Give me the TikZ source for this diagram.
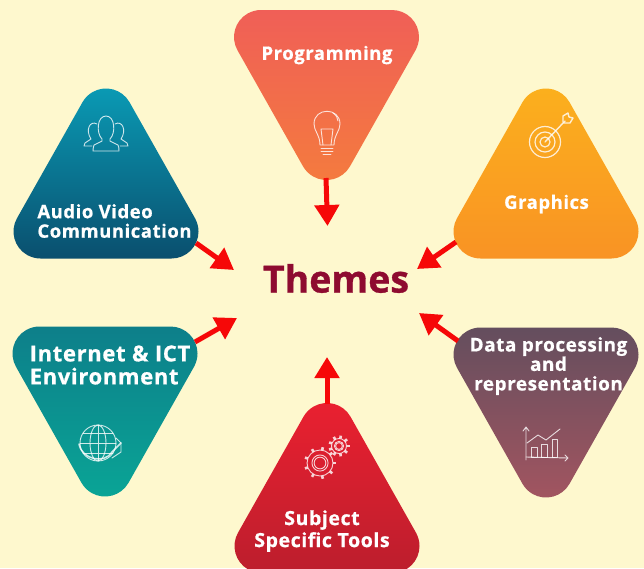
\documentclass[tikz,border=0pt]{standalone}
\usepackage{fontspec}
\setmainfont{Open Sans}
\usetikzlibrary{arrows.meta}
\definecolor{bgc}{HTML}{FEF8CE}
\definecolor{themec}{HTML}{8E0B30}
\definecolor{arrowc}{HTML}{F60808}
\definecolor{progA}{HTML}{F05F57}\definecolor{progB}{HTML}{F47B3E}
\definecolor{avA}{HTML}{0A9BB5}\definecolor{avB}{HTML}{0A4F6E}
\definecolor{grA}{HTML}{FBB01D}\definecolor{grB}{HTML}{F99324}
\definecolor{inA}{HTML}{0D7F8A}\definecolor{inB}{HTML}{0AA596}
\definecolor{daA}{HTML}{644E5E}\definecolor{daB}{HTML}{A35560}
\definecolor{suA}{HTML}{EA2030}\definecolor{suB}{HTML}{BC1E2D}
\newfontfamily\lblfont[LetterSpace=3,BoldFeatures={FakeBold=0.7,LetterSpace=3}]{Open Sans}
\newfontfamily\themefont[BoldFeatures={FakeBold=0.9}]{Open Sans}
\newcommand{\downtri}[4]{%
 \begin{scope}[shift={(#1,#2)},y=1pt]
 \shade[top color=#3,bottom color=#4]
 (-65.5,0) -- (65.5,0) arc[start angle=90,end angle=-29.45,radius=27]
 -- (23.51,-156.28) arc[start angle=-29.45,end angle=-150.55,radius=27]
 -- (-89.01,-40.28) arc[start angle=209.45,end angle=90,radius=27] -- cycle;
 \end{scope}}
\newcommand{\uptri}[4]{%
 \begin{scope}[shift={(#1,#2)},y=1pt]
 \shade[top color=#3,bottom color=#4]
 (65.5,-170) arc[start angle=-90,end angle=29.45,radius=27]
 -- (23.51,-13.72) arc[start angle=29.45,end angle=150.55,radius=27]
 -- (-89.01,-129.72) arc[start angle=150.55,end angle=270,radius=27] -- cycle;
 \end{scope}}
\newcommand{\gearicon}[4]{% x y r teeth
 \begin{scope}[shift={(#1,#2)}]
 \draw[icon] (0,0) circle[radius=#3];
 \draw[icon] (0,0) circle[radius=#3*.62];
 \draw[icon] (0,0) circle[radius=#3*.45];
 \foreach \a in {1,...,#4}{
  \draw[icon,line width=2.6pt,line cap=butt] ({360/#4*\a}:#3) -- ({360/#4*\a}:#3+3);}
 \end{scope}}
\tikzset{
 lbl/.style={text=white,inner sep=0pt,font=\lblfont\bfseries\fontsize{18.5}{19.5}\selectfont},
 link/.style={draw=arrowc,line width=5pt,-{Triangle[length=21pt,width=24pt]}},
 icon/.style={draw=white,draw opacity=.8,line width=.9pt,line join=round,line cap=round}
}
\begin{document}
\begin{tikzpicture}[x=1pt,y=-1pt]
\useasboundingbox (0,0) rectangle (644,568);
\fill[bgc] (0,0) rectangle (644,568);
\begin{scope}
\clip (0,0) rectangle (644,568);
\downtri{326.5}{10}{progA}{progB}
\uptri{106}{88.5}{avA}{avB}
\uptri{546}{88.5}{grA}{grB}
\downtri{105}{326.5}{inA}{inB}
\downtri{546}{327.5}{daA}{daB}
\uptri{327}{403}{suA}{suB}
\end{scope}
% central title
\node[inner sep=0pt,text=themec,font=\themefont\bfseries\fontsize{37.5}{40}\selectfont] (themes) at (336,278.5) {Themes};
% labels
\node[lbl] (prog) at (327,55) {Programming};
\node[lbl,align=left] (av) at (114.5,221) {Audio Video\\Communication};
\node[lbl] (gr) at (546.5,204) {Graphics};
\node[lbl,align=left,font=\lblfont\bfseries\fontsize{22}{23}\selectfont] (inet) at (110,365) {Internet \& ICT\\Environment};
\node[lbl,align=center,font=\lblfont\bfseries\fontsize{18.9}{19.5}\selectfont] (data) at (548.5,366) {Data processing\\and\\representation};
\node[lbl,align=center,font=\lblfont\bfseries\fontsize{19.5}{22}\selectfont] (subj) at (322,531) {Subject\\Specific Tools};
% connector ends
\coordinate (progOut) at (326,178);  \coordinate (progIn) at (327.5,226);
\coordinate (avOut) at (196,243);    \coordinate (avIn) at (234,270);
\coordinate (grOut) at (456,242);    \coordinate (grIn) at (417,269);
\coordinate (inOut) at (195,342);    \coordinate (inIn) at (237,318);
\coordinate (daOut) at (458,341);    \coordinate (daIn) at (419,313);
\coordinate (suOut) at (327,404);    \coordinate (suIn) at (327,357);
\draw[link] (progOut) -- (progIn);
\draw[link] (avOut) -- (avIn);
\draw[link] (grOut) -- (grIn);
\draw[link] (inOut) -- (inIn);
\draw[link] (daOut) -- (daIn);
\draw[link] (suOut) -- (suIn);
% bulb icon
\draw[icon] (320,145) .. controls (320,135) and (314,131) .. (314,124) .. controls (314,107) and (340,107) .. (340,124) .. controls (340,131) and (334,135) .. (334,145) -- cycle;
\draw[icon] (323,145) -- (321,129) -- (333,129) -- (331,145);
\draw[icon] (321,148) -- (333,148) (321,151) -- (333,151) (323,154) -- (331,154);
\draw[icon] (333,113) .. controls (336,115) and (338,118) .. (338,121);
% people icon
\draw[icon] (106,116) .. controls (97,116) and (96,133) .. (102,139) -- (102,141) -- (94,145) .. controls (93,148) and (93,150) .. (93,151) -- (119,151) .. controls (119,149) and (119,147) .. (118,145) -- (110,141) -- (110,139) .. controls (116,133) and (115,116) .. (106,116) -- cycle;
\draw[icon] (97,124) .. controls (90,120) and (85,130) .. (91,139) -- (85,143) -- (84,146) -- (92,146);
\draw[icon] (115,124) .. controls (122,120) and (127,130) .. (121,139) -- (127,143) -- (128,146) -- (120,146);
% target icon
\draw[icon,line width=1.2pt] (545,142) circle[radius=15.5];
\draw[icon,line width=1.2pt] (545,142) circle[radius=10];
\draw[icon,line width=1.2pt] (545,142) circle[radius=5];
\draw[icon,line width=1.4pt] (545,142) -- (565,121);
\draw[icon,line width=1.4pt] (563,122) -- (563,116) -- (568,113) -- (569,117) -- (573,118) -- (570,123) -- (564,123);
% globe icon
\draw[icon] (98,443) circle[radius=18];
\draw[icon] (98,443) ellipse[x radius=8,y radius=18];
\draw[icon] (98,425) -- (98,461) (80,443) -- (116,443) (83,433) -- (113,433) (83,453) -- (113,453);
\draw[icon,line width=1.5pt] (79,444) .. controls (82,460) and (105,464) .. (112,452) -- (121,443);
\draw[icon] (116,438) -- (121,443) -- (121,452) -- (112,458);
% chart icon
\draw[icon] (526,460) -- (526,427) (523,431) -- (526,427) -- (529,431);
\draw[icon] (526,457) -- (568,458) (565,455) -- (568,458) -- (565,461);
\draw[icon] (527,443) -- (538,435) -- (546,440) -- (560,429);
\draw[icon] (531,457) rectangle (537,447) (541,457) rectangle (547,444) (552,457) rectangle (557,439);
% gears icon
\gearicon{320}{463}{13}{9}
\gearicon{339}{446}{7.5}{9}
\end{tikzpicture}
\end{document}
